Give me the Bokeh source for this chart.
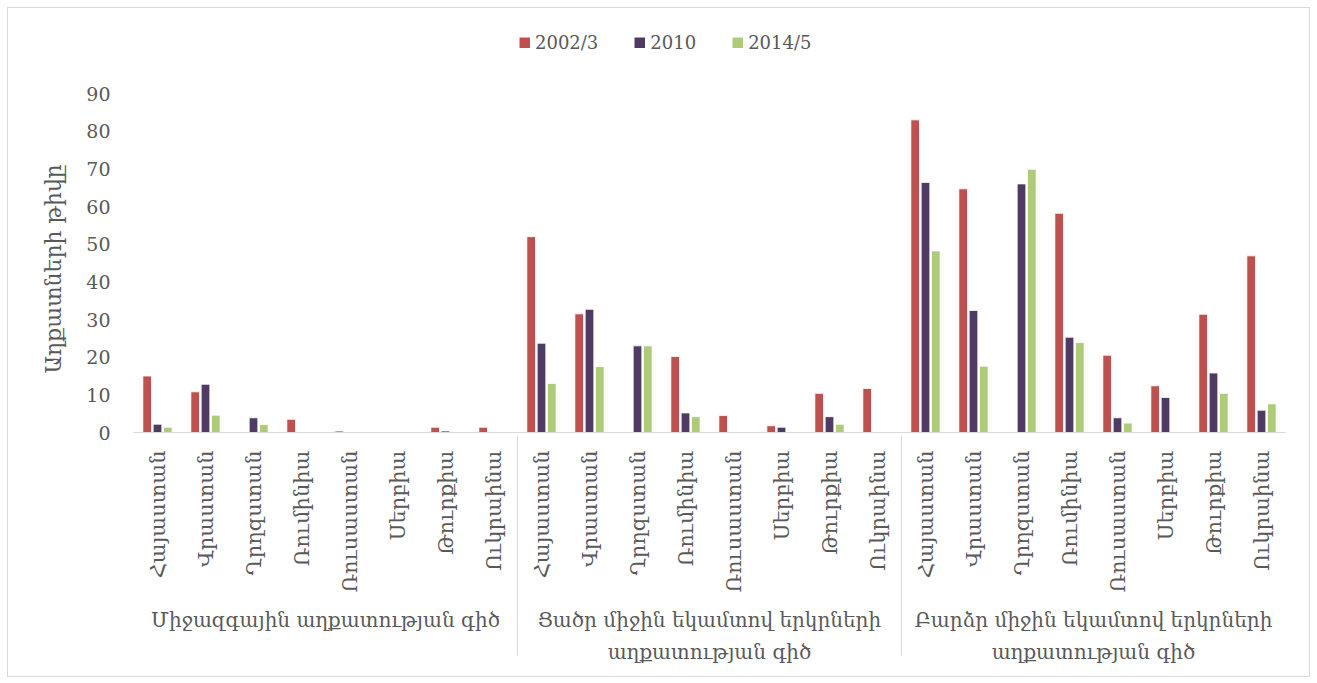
import math
import numpy as np
from bokeh.plotting import figure
from bokeh.models import (FactorRange, Range1d, Legend, LegendItem, ColumnDataSource,
                          FixedTicker, Title)
from bokeh.transform import dodge
from bokeh.embed import file_html
from bokeh.resources import INLINE

groups = ["Միջազգային աղքատության գիծ",
          "Ցածր միջին եկամտով երկրների\nաղքատության գիծ",
          "Բարձր միջին եկամտով երկրների\nաղքատության գիծ"]
countries = ["Հայաստան", "Վրաստան", "Ղրղզստան", "Ռումինիա",
             "Ռուսաստան", "Սերբիա", "Թուրքիա", "Ուկրաինա"]
series = ["2002/3", "2010", "2014/5"]
colors = ["#C0504D", "#4E3A62", "#B0CA7B"]

nan = float("nan")
v2002 = [15.0, 10.8, nan, 3.5, 0.4, nan, 1.4, 1.4,
         52.0, 31.5, nan, 20.2, 4.5, 1.8, 10.4, 11.7,
         83.0, 64.7, nan, 58.2, 20.5, 12.4, 31.4, 46.9]
v2010 = [2.2, 12.8, 3.9, nan, nan, nan, 0.4, nan,
         23.7, 32.7, 23.0, 5.2, nan, 1.4, 4.2, nan,
         66.4, 32.4, 66.0, 25.3, 3.9, 9.3, 15.8, 5.9]
v2014 = [1.4, 4.6, 2.1, nan, nan, nan, nan, nan,
         13.0, 17.5, 23.0, 4.2, nan, nan, 2.2, nan,
         48.2, 17.6, 69.9, 23.9, 2.5, nan, 10.4, 7.6]
y_ticks = [0, 10, 20, 30, 40, 50, 60, 70, 80, 90]
y_title = "Աղքատների թիվը"

factors = [(g, c) for g in groups for c in countries]
source = ColumnDataSource(dict(x=factors, s0=v2002, s1=v2010, s2=v2014))

FONT = "DejaVu Serif"
TXT = "#595959"

# frame extends above the 90 tick so that the legend can sit inside it
y_top = 90 * 402 / 339

p = figure(width=1303, height=670, output_backend="svg", toolbar_location=None,
           x_range=FactorRange(*factors, factor_padding=0, group_padding=0, range_padding=0),
           y_range=Range1d(0, y_top),
           min_border_left=125, min_border_right=26, min_border_top=22, min_border_bottom=246)
p.outline_line_color = None
p.xgrid.grid_line_color = None
p.ygrid.grid_line_color = None
p.background_fill_color = "white"
p.border_fill_color = "white"
p.styles = {"border": "1px solid #d9d9d9", "margin": "7px 0px 0px 7px"}

offsets = [-0.215, 0.0, 0.215]
for i, col in enumerate(colors):
    p.vbar(x=dodge("x", offsets[i], range=p.x_range), top="s%d" % i, width=0.18,
           source=source, fill_color=col, line_color="white", line_width=0.8)

# legend swatches: thick short strokes (their single point is NaN, so nothing is drawn)
swatches = [p.line(x=[nan], y=[nan], line_width=11, line_color=col, line_cap="butt")
            for col in colors]

yax = p.yaxis[0]
yax.ticker = FixedTicker(ticks=y_ticks)
yax.axis_line_color = None
yax.major_tick_line_color = None
yax.minor_tick_line_color = None
yax.major_label_text_font = FONT
yax.major_label_text_font_size = "19px"
yax.major_label_text_color = TXT
yax.major_label_standoff = 17

ytitle = Title(text=y_title, align="left", offset=59, standoff=36,
               text_font=FONT, text_font_size="22px", text_font_style="normal",
               text_color=TXT)
p.add_layout(ytitle, "left")

xax = p.xaxis[0]
xax.axis_line_color = "#D9D9D9"
xax.major_tick_line_color = None
xax.minor_tick_line_color = None
xax.major_label_orientation = math.pi / 2
xax.major_label_text_font = FONT
xax.major_label_text_font_size = "21px"
xax.major_label_text_color = TXT
xax.major_label_standoff = 12
xax.group_text_font = FONT
xax.group_text_font_size = "20px"
xax.group_text_color = TXT
xax.group_text_font_style = "normal"
xax.group_text_line_height = 1.35
xax.separator_line_color = "#D9D9D9"
xax.separator_line_width = 1

legend = Legend(items=[LegendItem(label=s, renderers=[r]) for s, r in zip(series, swatches)],
                location=(386, 379), orientation="horizontal")
legend.label_text_font = FONT
legend.label_text_font_size = "18px"
legend.label_text_color = TXT
legend.glyph_width = 11
legend.glyph_height = 11
legend.label_standoff = 5
legend.spacing = 36
legend.padding = 0
legend.margin = 0
legend.border_line_color = None
legend.background_fill_alpha = 0
p.add_layout(legend)

open("out.html", "w").write(file_html(p, INLINE))
